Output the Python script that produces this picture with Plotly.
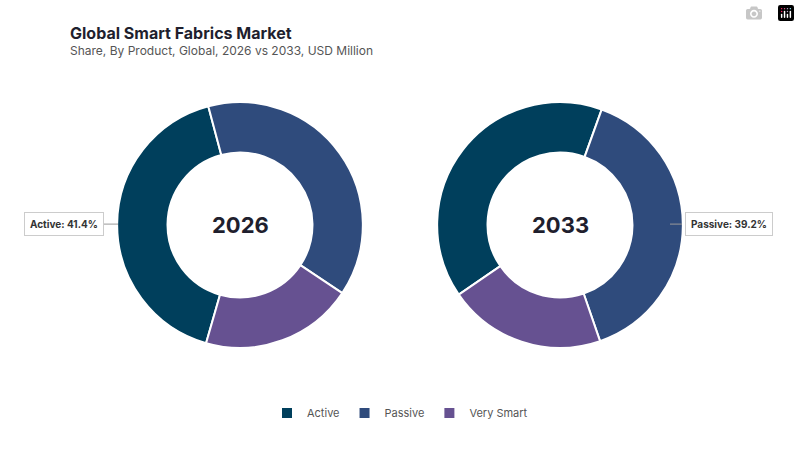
import plotly.graph_objects as go

products = ['Active', 'Passive', 'Very Smart']
share_2026 = [41.4, 38.5, 20.1]
share_2033 = [40.1, 39.2, 20.7]
colors = ['#003f5c', '#2f4b7c', '#665191']

fig = go.Figure()
fig.add_trace(go.Pie(labels=products, values=share_2026, hole=0.59, sort=False,
                     direction='clockwise', rotation=196,
                     marker=dict(colors=colors, line=dict(color='white', width=2)),
                     textinfo='none', hoverinfo='label+percent',
                     domain=dict(x=[0.146, 0.454], y=[0.227, 0.773])))
fig.add_trace(go.Pie(labels=products, values=share_2033, hole=0.59, sort=False,
                     direction='clockwise', rotation=235.5, showlegend=False,
                     marker=dict(colors=colors, line=dict(color='white', width=2)),
                     textinfo='none', hoverinfo='label+percent',
                     domain=dict(x=[0.546, 0.854], y=[0.227, 0.773])))

fig.add_annotation(x=0.3, y=0.5, xref='paper', yref='paper', xanchor='center', text='<b>2026</b>',
                   showarrow=False, font=dict(size=22, color='#1f1f2e'))
fig.add_annotation(x=0.7, y=0.5, xref='paper', yref='paper', xanchor='center', text='<b>2033</b>',
                   showarrow=False, font=dict(size=22, color='#1f1f2e'))

# callout labels
fig.add_shape(type='line', xref='paper', yref='paper', x0=104/800, x1=118/800,
              y0=0.502, y1=0.502, line=dict(color='#999999', width=1))
fig.add_annotation(x=64/800, y=0.502, xref='paper', yref='paper', xanchor='center',
                   text='<b>Active: 41.4%</b>', showarrow=False,
                   font=dict(size=10, color='#333333'), bgcolor='white',
                   bordercolor='#cccccc', borderwidth=1, borderpad=5)
fig.add_shape(type='line', xref='paper', yref='paper', x0=682/800, x1=670/800,
              y0=0.502, y1=0.502, line=dict(color='#999999', width=1))
fig.add_annotation(x=729/800, y=0.502, xref='paper', yref='paper', xanchor='center',
                   text='<b>Passive: 39.2%</b>', showarrow=False,
                   font=dict(size=10, color='#333333'), bgcolor='white',
                   bordercolor='#cccccc', borderwidth=1, borderpad=5)

fig.add_annotation(x=68/800, y=1 - 21/450, xref='paper', yref='paper', xanchor='left',
                   text='<b>Global Smart Fabrics Market</b>', showarrow=False,
                   font=dict(size=16, color='#1f1f2e'))
fig.add_annotation(x=68/800, y=1 - 41/450, xref='paper', yref='paper', xanchor='left',
                   text='Share, By Product, Global, 2026 vs 2033, USD Million', showarrow=False,
                   font=dict(size=12, color='#555555'))

fig.update_layout(width=800, height=450, margin=dict(l=0, r=0, t=0, b=0),
                  paper_bgcolor='white', font=dict(family='Inter'),
                  legend=dict(orientation='h', x=0.5, xanchor='center', y=0.082, yanchor='middle',
                              font=dict(size=11, color='#555555'), itemwidth=30))
fig.write_html('out.html', post_script="document.body.style.margin='0';")
